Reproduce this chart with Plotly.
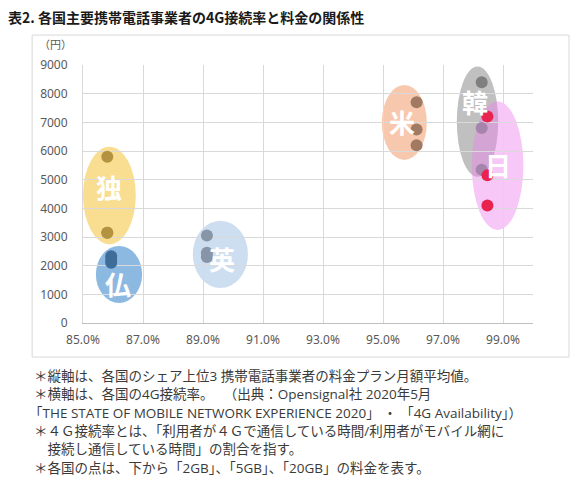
import plotly.graph_objects as go

# ---- data ----
countries = ["独", "仏", "英", "米", "韓", "日"]
rate_4g = [85.81, 85.94, 89.13, 96.12, 98.29, 98.48]      # 4G接続率 (%)
price_2gb = [3150, 2100, 2300, 6200, 5350, 4100]          # 円
price_5gb = [3150, 2200, 2450, 6750, 6800, 5150]
price_20gb = [5800, 2330, 3050, 7700, 8400, 7200]

x_ticks = [85, 87, 89, 91, 93, 95, 97, 99]
y_ticks = [0, 1000, 2000, 3000, 4000, 5000, 6000, 7000, 8000, 9000]

notes = [
    "＊縦軸は、各国のシェア上位3 携帯電話事業者の料金プラン月額平均値。",
    "＊横軸は、各国の4G接続率。　 （出典：Opensignal社 2020年5月",
    "「THE STATE OF MOBILE NETWORK EXPERIENCE 2020」 ・ 「4G Availability」）",
    "＊４Ｇ接続率とは、「利用者が４Ｇで通信している時間/利用者がモバイル網に",
    "　接続し通信している時間」の割合を指す。",
    "＊各国の点は、下から「2GB」、「5GB」、「20GB」の料金を表す。",
]

# ---- styles ----
dot_colors = {
    "独": ["#b39240"] * 3,
    "仏": ["#3f6d9a"] * 3,
    "英": ["#8795a6"] * 3,
    "米": ["#a07a62"] * 3,
    "韓": ["#a585ab", "#a585ab", "#7f7f7f"],
    "日": ["#e8234f"] * 3,
}
# ellipse: x shift, half width (%), pad below min, pad above max (円), fill
ellipse = {
    "独": (0.07, 0.88, 400, 350, "rgba(244,196,64,0.58)"),
    "仏": (0.26, 0.77, 1400, 360, "rgba(91,155,213,0.7)"),
    "英": (0.45, 0.92, 1080, 520, "rgba(180,204,234,0.65)"),
    "米": (-0.41, 0.75, 511, 606, "rgba(244,170,130,0.65)"),
    "韓": (-0.14, 0.69, 244, 545, "rgba(150,150,150,0.6)"),
    "日": (0.34, 0.86, 854, 523, "rgba(238,130,238,0.45)"),
}
# label offset from ellipse centre (%, 円)
label_off = {
    "独": (0.0, 300), "仏": (-0.03, -300), "英": (0.05, -130),
    "米": (-0.09, 30), "韓": (-0.08, 700), "日": (0.01, 30),
}

FONT = "Noto Sans CJK JP"
NOTE_FONT = "Open Sans, Noto Sans CJK JP"
GRID = "#d9d9d9"
TXT = "#595959"

fig = go.Figure()
shapes = []
annotations = []

for i, c in enumerate(countries):
    vals = [price_2gb[i], price_5gb[i], price_20gb[i]]
    dx, hw, pad_lo, pad_hi, fill = ellipse[c]
    cx = rate_4g[i] + dx
    y0, y1 = min(vals) - pad_lo, max(vals) + pad_hi
    shapes.append(dict(type="circle", xref="x", yref="y", x0=cx - hw, x1=cx + hw,
                       y0=y0, y1=y1, fillcolor=fill, line=dict(width=0),
                       layer="below"))
    lx, ly = label_off[c]
    annotations.append(dict(x=cx + lx, y=(y0 + y1) / 2 + ly, xref="x", yref="y",
                            text=f"<b>{c}</b>", showarrow=False,
                            font=dict(family=FONT, size=26, color="white")))
    fig.add_trace(go.Scatter(
        x=[rate_4g[i]] * 3, y=vals, mode="markers", name=c,
        marker=dict(size=12, color=dot_colors[c], line=dict(width=0)),
        hoverinfo="x+y+name",
    ))

# outer chart frame
shapes.append(dict(type="rect", xref="paper", yref="paper", x0=-0.113, x1=1.08,
                   y0=-0.132, y1=1.116, line=dict(color=GRID, width=1),
                   fillcolor="rgba(0,0,0,0)", layer="below"))

annotations.append(dict(x=-0.062, y=1.080, xref="paper", yref="paper", text="（円）",
                        xanchor="center", yanchor="middle", showarrow=False,
                        font=dict(family=FONT, size=11, color=TXT)))

# footnotes under the chart
for k, line in enumerate(notes):
    px_left = 27 if line.startswith("「") else 32
    annotations.append(dict(
        x=(px_left - 83) / 450, y=(323 - (375.7 + 18.4 * k)) / 258,
        xref="paper", yref="paper", xanchor="left", yanchor="middle",
        text=line, showarrow=False, align="left",
        font=dict(family=NOTE_FONT, size=13.5, color="#3a3a3a"),
    ))

# page body adds an 8px margin, so the figure is 8px smaller and shifted
fig.update_layout(
    width=572, height=473,
    margin=dict(l=75, r=47, t=57, b=158),
    paper_bgcolor="white", plot_bgcolor="white",
    showlegend=False,
    title=dict(text="<b>表2. 各国主要携帯電話事業者の4G接続率と料金の関係性</b>",
               x=0.0, y=0.978, xanchor="left", yanchor="middle",
               font=dict(family=FONT, size=14, color="#1a1a1a")),
    xaxis=dict(range=[85, 100], tickvals=x_ticks,
               ticktext=[f"{v:.1f}%" for v in x_ticks],
               showgrid=True, gridcolor=GRID, gridwidth=1,
               showline=True, linecolor="#bfbfbf", linewidth=1,
               zeroline=False, ticks="outside", ticklen=6,
               tickcolor="rgba(0,0,0,0)",
               tickfont=dict(family="Noto Sans", size=12, color=TXT)),
    yaxis=dict(range=[0, 9000], tickvals=y_ticks,
               showgrid=True, gridcolor=GRID, gridwidth=1,
               showline=True, linecolor=GRID, linewidth=1,
               zeroline=False, ticks="outside", ticklen=12,
               tickcolor="rgba(0,0,0,0)",
               tickfont=dict(family="Noto Sans", size=12, color=TXT)),
    shapes=shapes,
    annotations=annotations,
)

fig.write_html("out.html")
